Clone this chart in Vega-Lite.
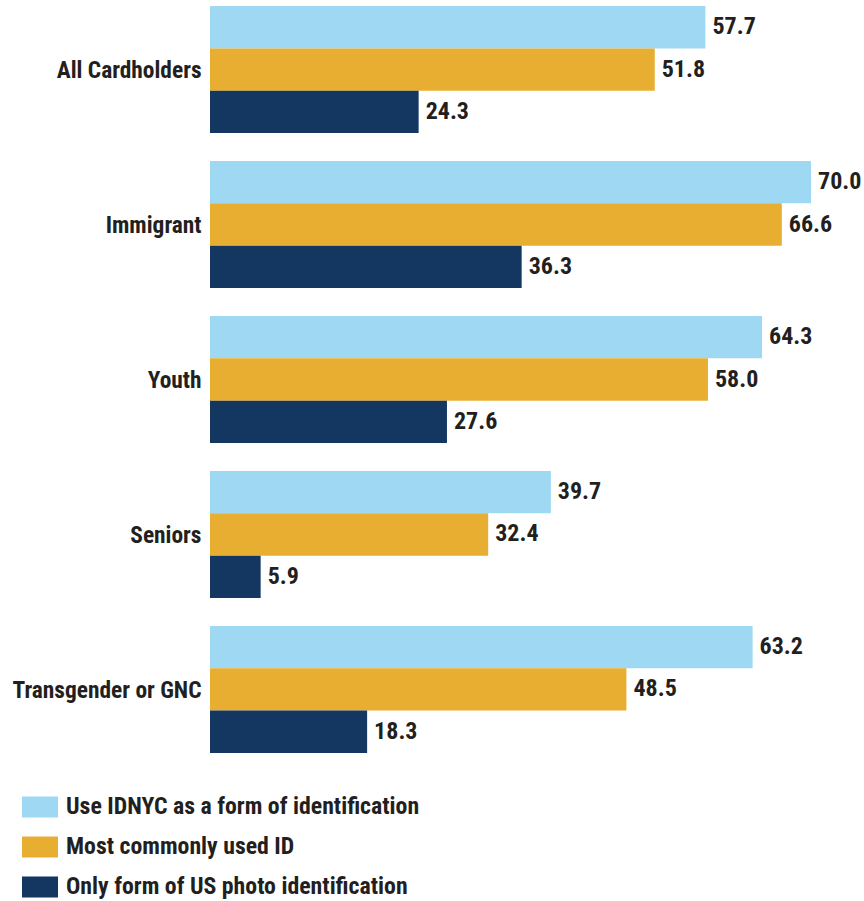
{
  "$schema": "https://vega.github.io/schema/vega-lite/v6.json",
  "width": 601,
  "height": 759,
  "autosize": {"type": "none"},
  "padding": {"left": 210, "top": 0, "right": 53, "bottom": 142},
  "background": "white",
  "config": {
    "view": {"stroke": null},
    "font": "'Roboto Condensed', 'DejaVu Sans Condensed', 'Liberation Sans', sans-serif"
  },
  "data": {
    "values": [
      {"group": "All Cardholders", "series": "Use IDNYC as a form of identification", "value": 57.7},
      {"group": "All Cardholders", "series": "Most commonly used ID", "value": 51.8},
      {"group": "All Cardholders", "series": "Only form of US photo identification", "value": 24.3},
      {"group": "Immigrant", "series": "Use IDNYC as a form of identification", "value": 70.0},
      {"group": "Immigrant", "series": "Most commonly used ID", "value": 66.6},
      {"group": "Immigrant", "series": "Only form of US photo identification", "value": 36.3},
      {"group": "Youth", "series": "Use IDNYC as a form of identification", "value": 64.3},
      {"group": "Youth", "series": "Most commonly used ID", "value": 58.0},
      {"group": "Youth", "series": "Only form of US photo identification", "value": 27.6},
      {"group": "Seniors", "series": "Use IDNYC as a form of identification", "value": 39.7},
      {"group": "Seniors", "series": "Most commonly used ID", "value": 32.4},
      {"group": "Seniors", "series": "Only form of US photo identification", "value": 5.9},
      {"group": "Transgender or GNC", "series": "Use IDNYC as a form of identification", "value": 63.2},
      {"group": "Transgender or GNC", "series": "Most commonly used ID", "value": 48.5},
      {"group": "Transgender or GNC", "series": "Only form of US photo identification", "value": 18.3}
    ]
  },
  "encoding": {
    "y": {
      "field": "group",
      "type": "nominal",
      "sort": ["All Cardholders", "Immigrant", "Youth", "Seniors", "Transgender or GNC"],
      "scale": {"paddingInner": 0.18, "paddingOuter": 0.039},
      "axis": {
        "title": null,
        "domain": false,
        "ticks": false,
        "labelPadding": 9,
        "labelFont": "'Roboto Condensed', 'DejaVu Sans Condensed', 'Liberation Sans', sans-serif",
        "labelFontWeight": "bold",
        "labelFontSize": 23.4,
        "labelColor": "#231f20",
        "labelLimit": 0,
        "labelOffset": 1.5
      }
    },
    "yOffset": {
      "field": "series",
      "type": "nominal",
      "sort": ["Use IDNYC as a form of identification", "Most commonly used ID", "Only form of US photo identification"],
      "scale": {"paddingInner": 0, "paddingOuter": 0}
    },
    "x": {
      "field": "value",
      "type": "quantitative",
      "scale": {"domain": [0, 70], "nice": false},
      "axis": null
    }
  },
  "layer": [
    {
      "mark": {"type": "bar", "cornerRadius": 0},
      "encoding": {
        "color": {
          "field": "series",
          "type": "nominal",
          "sort": ["Use IDNYC as a form of identification", "Most commonly used ID", "Only form of US photo identification"],
          "scale": {
            "domain": ["Use IDNYC as a form of identification", "Most commonly used ID", "Only form of US photo identification"],
            "range": ["#9fd8f3", "#e8ae32", "#143762"]
          },
          "legend": {
            "title": null,
            "orient": "none",
            "legendX": -188,
            "legendY": 789,
            "direction": "vertical",
            "symbolType": "M-1,-0.58H1V0.58H-1Z",
            "symbolSize": 1296,
            "symbolStrokeWidth": 0,
            "symbolOpacity": 1,
            "labelFont": "'Roboto Condensed', 'DejaVu Sans Condensed', 'Liberation Sans', sans-serif",
            "labelFontWeight": "bold",
            "labelFontSize": 23.8,
            "labelColor": "#231f20",
            "labelOffset": 8,
            "labelLimit": 0,
            "rowPadding": 10
          }
        }
      }
    },
    {
      "mark": {
        "type": "text",
        "align": "left",
        "baseline": "middle",
        "dx": 7,
        "fontWeight": "bold",
        "fontSize": 24,
        "color": "#231f20"
      },
      "encoding": {
        "text": {"field": "value", "type": "quantitative", "format": ".1f"}
      }
    }
  ]
}
